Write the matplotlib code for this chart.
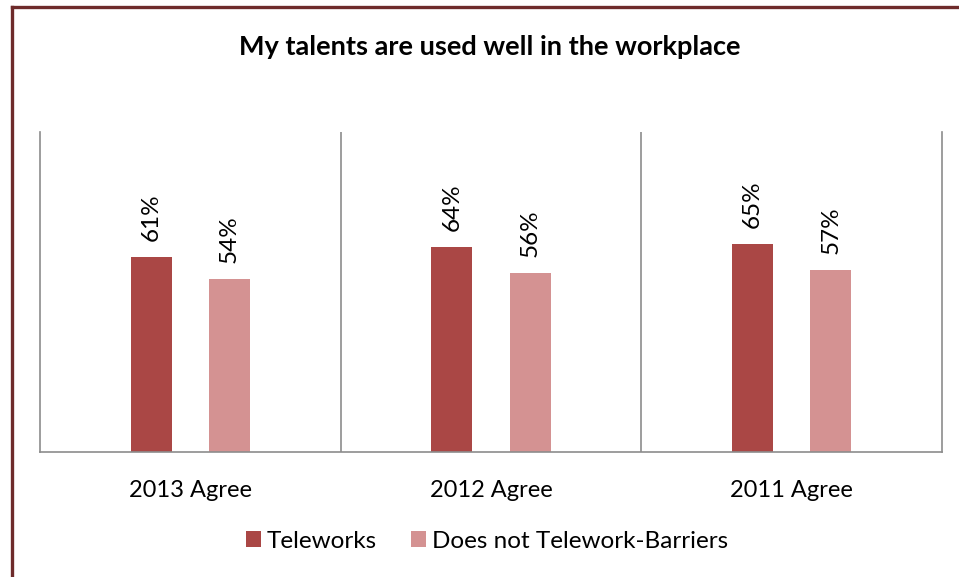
import matplotlib.pyplot as plt
from matplotlib.lines import Line2D
import numpy as np

plt.rcParams["font.family"] = ["Lato", "DejaVu Sans"]

categories = ["2013 Agree", "2012 Agree", "2011 Agree"]
series_names = ["Teleworks", "Does not Telework-Barriers"]
teleworks = [0.61, 0.64, 0.65]
barriers = [0.54, 0.56, 0.57]

COLORS = ["#AA4745", "#D49292"]
GRID = "#8C8C8C"

fig = plt.figure(figsize=(9.59, 5.77), dpi=100)
ax = fig.add_axes([0.0417, 0.2166, 0.9406, 0.5546])

x = np.arange(len(categories))
width = 0.136
offset = 0.13
for vals, name, color, dx in zip([teleworks, barriers], series_names, COLORS, [-offset, offset]):
    bars = ax.bar(x + dx, vals, width, color=color, label=name)
    for b, v in zip(bars, vals):
        ax.text(b.get_x() + b.get_width() / 2, v + 0.05, f"{v:.0%}",
                rotation=90, ha="center", va="bottom", fontsize=17.5)

ax.set_xlim(-0.5, len(categories) - 0.5)
ax.set_ylim(0, 1)
ax.set_yticks([])
ax.set_xticks(x)
ax.set_xticklabels(categories, fontsize=17)
ax.tick_params(axis="x", length=0, pad=20)
for xb in [0.5, 1.5]:
    ax.axvline(xb, color=GRID, lw=1.2)
ax.spines["top"].set_visible(False)
for side in ["left", "right", "bottom"]:
    ax.spines[side].set_color(GRID)
    ax.spines[side].set_linewidth(1.2)

fig.text(0.511, 0.918, "My talents are used well in the workplace", fontsize=19.5,
         fontweight="bold", ha="center", va="center")

fig.legend(handles=ax.containers, labels=series_names, loc="center",
           bbox_to_anchor=(0.508, 0.062), ncol=2, frameon=False,
           fontsize=17.5, handlelength=0.6, handleheight=0.6, handletextpad=0.25,
           columnspacing=1.4, borderaxespad=0)

# outer frame: left and top edges only
frame = dict(color="#6E2B2B", lw=2.4, transform=fig.transFigure)
fig.lines.append(Line2D([11.5 / 959, 11.5 / 959], [0, 1 - 7 / 577], **frame))
fig.lines.append(Line2D([11.5 / 959, 1], [1 - 7 / 577, 1 - 7 / 577], **frame))

fig.savefig("out.png", dpi=100)
